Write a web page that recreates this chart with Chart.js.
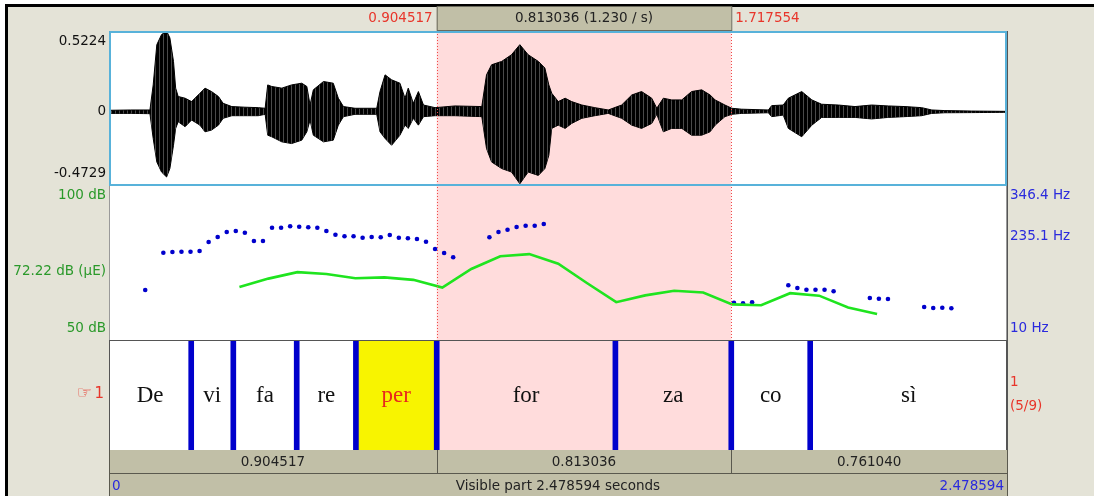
<!DOCTYPE html>
<html>
<head>
<meta charset="utf-8">
<title>Praat TextGrid editor</title>
<script src="https://cdn.jsdelivr.net/npm/chart.js@4.4.0/dist/chart.umd.min.js"></script>
<style>
  html, body { margin: 0; padding: 0; background: #fff; }
  #wrap { position: relative; width: 1094px; height: 496px; }
  canvas { display: block; }
</style>
</head>
<body>
<div id="wrap"><canvas id="praat" width="1094" height="496"></canvas></div>
<script>
// --- data ---
const totalDuration = 2.478594;
const selStart = 0.904517;
const selEnd = 1.717554;

// tier 1: interval bounds and their labels
const tierBounds = [0, 0.2269, 0.3431, 0.5181, 0.6815, 0.904517, 1.3977, 1.717554, 1.9354, 2.478594];
const tierLabels = ['De', 'vi', 'fa', 're', 'per', 'for', 'za', 'co', 'sì'];
const activeInterval = 4;

// waveform envelope (upper / lower amplitude)
const waveTimes = [0.000, 0.003, 0.060, 0.113, 0.122, 0.132, 0.145, 0.159, 0.168, 0.178, 0.184, 0.191, 0.210, 0.228,
  0.251, 0.265, 0.283, 0.302, 0.315, 0.339, 0.375, 0.412, 0.431, 0.438, 0.449, 0.477, 0.504, 0.532, 0.546, 0.555,
  0.564, 0.592, 0.619, 0.633, 0.647, 0.679, 0.739, 0.748, 0.762, 0.780, 0.803, 0.817, 0.826, 0.840, 0.854, 0.868,
  0.900, 0.955, 1.029, 1.042, 1.056, 1.084, 1.111, 1.134, 1.157, 1.185, 1.203, 1.214, 1.222, 1.240, 1.259, 1.277,
  1.305, 1.341, 1.378, 1.415, 1.443, 1.470, 1.498, 1.512, 1.530, 1.553, 1.581, 1.608, 1.636, 1.659, 1.673, 1.700,
  1.719, 1.746, 1.820, 1.829, 1.861, 1.875, 1.912, 1.940, 1.967, 2.013, 2.059, 2.105, 2.151, 2.197, 2.243, 2.271,
  2.307, 2.381, 2.4786];
const waveTop = [0.008, 0.010, 0.012, 0.012, 0.174, 0.434, 0.499, 0.521, 0.478, 0.326, 0.153, 0.099, 0.088, 0.066,
  0.120, 0.153, 0.131, 0.099, 0.055, 0.034, 0.030, 0.027, 0.023, 0.174, 0.164, 0.153, 0.174, 0.185, 0.164, 0.044,
  0.142, 0.196, 0.185, 0.088, 0.034, 0.023, 0.023, 0.131, 0.239, 0.207, 0.185, 0.088, 0.153, 0.055, 0.131, 0.044,
  0.027, 0.038, 0.034, 0.239, 0.304, 0.326, 0.369, 0.434, 0.369, 0.326, 0.283, 0.174, 0.120, 0.066, 0.088, 0.066,
  0.044, 0.027, 0.012, 0.044, 0.109, 0.131, 0.088, 0.023, 0.088, 0.077, 0.077, 0.131, 0.142, 0.109, 0.077, 0.044,
  0.023, 0.017, 0.012, 0.040, 0.044, 0.088, 0.131, 0.077, 0.049, 0.044, 0.034, 0.044, 0.038, 0.034, 0.027, 0.012,
  0.008, 0.005, 0.003];
const waveBottom = [-0.008, -0.010, -0.010, -0.012, -0.172, -0.324, -0.389, -0.421, -0.367, -0.216, -0.107, -0.064,
  -0.096, -0.053, -0.086, -0.129, -0.118, -0.086, -0.042, -0.025, -0.025, -0.025, -0.016, -0.151, -0.161, -0.194,
  -0.205, -0.183, -0.129, -0.053, -0.151, -0.194, -0.183, -0.086, -0.031, -0.016, -0.016, -0.129, -0.172, -0.216,
  -0.151, -0.086, -0.107, -0.042, -0.086, -0.031, -0.025, -0.025, -0.031, -0.237, -0.324, -0.367, -0.389, -0.465,
  -0.389, -0.411, -0.367, -0.281, -0.107, -0.086, -0.107, -0.075, -0.042, -0.025, -0.010, -0.042, -0.086, -0.107,
  -0.075, -0.016, -0.129, -0.107, -0.107, -0.151, -0.151, -0.129, -0.086, -0.031, -0.016, -0.010, -0.006, -0.031,
  -0.021, -0.107, -0.161, -0.086, -0.036, -0.036, -0.036, -0.046, -0.036, -0.031, -0.025, -0.010, -0.006, -0.005,
  -0.003];

// pitch (Hz)
const pitchTimes = [0.100, 0.150, 0.175, 0.200, 0.225, 0.250, 0.275, 0.300, 0.325, 0.350, 0.375, 0.400, 0.425,
  0.450, 0.475, 0.500, 0.525, 0.550, 0.575, 0.600, 0.625, 0.650, 0.675, 0.700, 0.725, 0.750, 0.775, 0.800, 0.825,
  0.850, 0.875, 0.900, 0.925, 0.950, 1.050, 1.075, 1.100, 1.125, 1.150, 1.175, 1.200, 1.725, 1.750, 1.775, 1.875,
  1.900, 1.925, 1.950, 1.975, 2.000, 2.100, 2.125, 2.150, 2.250, 2.275, 2.300, 2.325];
const pitchHz = [118.5, 199.5, 201.0, 201.5, 201.5, 203.2, 222.7, 233.5, 244.4, 246.6, 242.9, 224.9, 224.9, 253.7,
  253.7, 256.8, 255.9, 254.6, 253.7, 246.6, 238.5, 235.1, 235.1, 232.0, 233.5, 232.9, 237.9, 232.0, 230.7, 229.2,
  223.3, 207.5, 198.8, 189.5, 232.9, 244.4, 249.4, 255.2, 258.1, 258.1, 261.8, 91.0, 89.7, 91.8, 128.7, 122.9,
  119.2, 119.2, 119.2, 115.7, 101.2, 99.6, 99.0, 81.6, 79.5, 80.1, 78.8];

// intensity (dB)
const intensityTimes = [0.36, 0.44, 0.52, 0.60, 0.68, 0.76, 0.84, 0.92, 1.00, 1.08, 1.16, 1.24, 1.32, 1.40, 1.48,
  1.56, 1.64, 1.72, 1.80, 1.88, 1.96, 2.04, 2.12];
const intensityDb = [67.1, 69.8, 71.9, 71.3, 69.9, 70.2, 69.4, 66.9, 72.9, 77.0, 77.7, 74.6, 68.3, 62.2, 64.4,
  65.9, 65.3, 61.5, 61.2, 65.1, 64.3, 60.5, 58.4];

// axis ticks and labels
const waveTicks = [0.5224, 0, -0.4729];
const waveTickLabels = ['0.5224', '0', '-0.4729'];
const dbTicks = [100, 72.22, 50];
const dbTickLabels = ['100 dB', '72.22 dB (µE)', '50 dB'];
const hzTicks = [346.4, 235.1, 10];
const hzTickLabels = ['346.4 Hz', '235.1 Hz', '10 Hz'];

// texts in the top and bottom bars
const selectionText = '0.813036 (1.230 / s)';
const selStartText = '0.904517';
const selEndText = '1.717554';
const segmentTexts = ['0.904517', '0.813036', '0.761040'];
const visibleText = 'Visible part 2.478594 seconds';

const SANS = '13.5px "DejaVu Sans"';
const BAR_FILL = '#c1bfa7';
const RED = '#e8352a';
const GREEN = '#2a992a';
const BLUE = '#2a2add';

function pts(xs, ys) { return xs.map((t, i) => ({ x: t, y: ys[i] })); }

// striped fill so the waveform reads like dense samples, not a flat blob
function stripePattern() {
  const p = document.createElement('canvas');
  p.width = 4; p.height = 1;
  const pc = p.getContext('2d');
  pc.fillStyle = '#000';
  pc.fillRect(0, 0, 4, 1);
  pc.fillStyle = '#4a4a4a';
  pc.fillRect(3, 0, 1, 1);
  return pc.createPattern(p, 'repeat');
}

function sideLabel(c, scale, value, text, x, align, color) {
  let y = scale.getPixelForValue(value);
  y = Math.max(scale.top + 10.5, Math.min(scale.bottom - 12, y));
  c.fillStyle = color;
  c.textAlign = align;
  c.textBaseline = 'middle';
  c.fillText(text, x, y);
}

const praatPanels = {
  id: 'praatPanels',
  beforeDraw(chart) {
    const c = chart.ctx, x = chart.scales.x, area = chart.chartArea;
    const W = chart.width, H = chart.height;
    c.save();
    c.fillStyle = '#fff';
    c.fillRect(0, 0, W, H);
    c.fillStyle = '#e4e3d7';
    c.fillRect(6, 5, W - 6, H - 5);
    c.fillStyle = '#000';
    c.fillRect(5, 4, W - 5, 3);
    c.fillRect(5, 4, 3, H - 4);

    c.fillStyle = '#fff';
    c.fillRect(area.left, area.top, area.right - area.left, area.bottom - area.top);
    // selected stretch
    const x0 = x.getPixelForValue(selStart), x1 = x.getPixelForValue(selEnd);
    c.fillStyle = '#ffdcdc';
    c.fillRect(x0, area.top, x1 - x0, area.bottom - area.top);
    // highlighted interval in the tier
    const tier = chart.scales.yTier;
    const a = x.getPixelForValue(tierBounds[activeInterval]);
    const b = x.getPixelForValue(tierBounds[activeInterval + 1]);
    c.fillStyle = '#f8f400';
    c.fillRect(a, tier.top, b - a, tier.bottom - tier.top);
    c.restore();
  },
  afterDatasetsDraw(chart) {
    const c = chart.ctx, x = chart.scales.x, area = chart.chartArea;
    const wave = chart.scales.yWave, db = chart.scales.yDb, hz = chart.scales.yHz, tier = chart.scales.yTier;
    const x0 = x.getPixelForValue(selStart), x1 = x.getPixelForValue(selEnd);
    c.save();

    // dotted selection edges
    c.strokeStyle = '#f04848';
    c.lineWidth = 1;
    c.setLineDash([1, 2]);
    [x0, x1].forEach(px => {
      c.beginPath();
      c.moveTo(Math.round(px) + 0.5, wave.top);
      c.lineTo(Math.round(px) + 0.5, db.bottom);
      c.stroke();
    });
    c.setLineDash([]);

    // panel frames
    c.strokeStyle = '#9a9a9a';
    c.lineWidth = 1;
    c.strokeRect(area.left + 0.5, db.top + 0.5, area.right - area.left - 1, db.bottom - db.top);
    c.strokeStyle = '#555';
    c.strokeRect(area.left + 0.5, tier.top + 0.5, area.right - area.left - 1, tier.bottom - tier.top);
    c.strokeStyle = '#58b2da';
    c.lineWidth = 2;
    c.strokeRect(area.left + 1, wave.top + 1, area.right - area.left - 2, wave.bottom - wave.top - 1);
    c.strokeStyle = '#555';
    c.lineWidth = 1;
    c.beginPath();
    c.moveTo(area.right + 0.5, area.top);
    c.lineTo(area.right + 0.5, area.bottom);
    c.stroke();

    // tier texts
    c.font = '23px "Liberation Serif"';
    c.textAlign = 'center';
    c.textBaseline = 'alphabetic';
    tierLabels.forEach((lab, i) => {
      const mid = (x.getPixelForValue(tierBounds[i]) + x.getPixelForValue(tierBounds[i + 1])) / 2;
      c.fillStyle = i === activeInterval ? '#e8281c' : '#111';
      c.fillText(lab, mid, tier.top + 62);
    });

    // side labels
    c.font = SANS;
    waveTicks.forEach((v, i) => sideLabel(c, wave, v, waveTickLabels[i], 106, 'right', '#111'));
    dbTicks.forEach((v, i) => sideLabel(c, db, v, dbTickLabels[i], 106, 'right', GREEN));
    hzTicks.forEach((v, i) => sideLabel(c, hz, v, hzTickLabels[i], 1010, 'left', BLUE));
    c.fillStyle = RED;
    c.textBaseline = 'middle';
    c.textAlign = 'left';
    c.fillText('1', 1010, tier.top + 42);
    c.fillText('(5/9)', 1010, tier.top + 66);
    c.textAlign = 'right';
    c.font = '15px "DejaVu Sans"';
    c.fillText('1', 104, tier.top + 54);
    c.font = '17px "DejaVu Sans"';
    c.fillText('☞', 92, tier.top + 54);

    // top bar
    c.font = SANS;
    c.fillStyle = BAR_FILL;
    c.fillRect(x0, 7, x1 - x0, area.top - 8);
    c.strokeStyle = '#6b6a5c';
    c.strokeRect(x0 + 0.5, 6.5, x1 - x0, area.top - 7);
    c.fillStyle = '#222';
    c.textAlign = 'center';
    c.fillText(selectionText, (x0 + x1) / 2, 18);
    c.fillStyle = RED;
    c.textAlign = 'right';
    c.fillText(selStartText, x0 - 4, 18);
    c.textAlign = 'left';
    c.fillText(selEndText, x1 + 4, 18);

    // bottom bars
    const r1 = area.bottom, r2 = area.bottom + 24;
    c.fillStyle = BAR_FILL;
    c.fillRect(area.left, r1, area.right - area.left, chart.height - r1);
    c.strokeStyle = '#5a594e';
    c.beginPath();
    c.moveTo(area.left + 0.5, r1); c.lineTo(area.left + 0.5, chart.height);
    c.moveTo(area.left, r2 - 0.5); c.lineTo(area.right, r2 - 0.5);
    c.moveTo(area.right + 0.5, r1); c.lineTo(area.right + 0.5, chart.height);
    [x0, x1].forEach(px => { c.moveTo(Math.round(px) + 0.5, r1); c.lineTo(Math.round(px) + 0.5, r2); });
    c.stroke();
    const segEdges = [0, selStart, selEnd, totalDuration];
    c.fillStyle = '#222';
    c.textAlign = 'center';
    segmentTexts.forEach((s, i) => {
      const mid = (x.getPixelForValue(segEdges[i]) + x.getPixelForValue(segEdges[i + 1])) / 2;
      c.fillText(s, mid, r1 + 12);
    });
    c.fillText(visibleText, (area.left + area.right) / 2, r2 + 12);
    c.fillStyle = BLUE;
    c.textAlign = 'left';
    c.fillText('0', area.left + 3, r2 + 12);
    c.textAlign = 'right';
    c.fillText(String(totalDuration), area.right - 3, r2 + 12);
    c.restore();
  }
};

const fixLeft = s => { s.width = 109; };
const fixRight = s => { s.width = 87; };
const hidden = { ticks: { display: false }, grid: { display: false }, border: { display: false } };

new Chart(document.getElementById('praat').getContext('2d'), {
  type: 'line',
  data: {
    datasets: [
      { label: 'wave top', data: pts(waveTimes, waveTop), yAxisID: 'yWave', borderColor: '#000',
        borderWidth: 1, backgroundColor: stripePattern(), fill: '+1', pointRadius: 0, tension: 0 },
      { label: 'wave bottom', data: pts(waveTimes, waveBottom), yAxisID: 'yWave', borderColor: '#000',
        borderWidth: 1, fill: false, pointRadius: 0, tension: 0 },
      { label: 'intensity', data: pts(intensityTimes, intensityDb), yAxisID: 'yDb', borderColor: '#1fe41f',
        borderWidth: 2.6, fill: false, pointRadius: 0, tension: 0 },
      { label: 'pitch', data: pts(pitchTimes, pitchHz), yAxisID: 'yHz', showLine: false,
        pointRadius: 2.3, pointBorderWidth: 0, pointBackgroundColor: '#0000cc' },
      { label: 'boundaries', type: 'bar', data: tierBounds.slice(1, -1).map(t => ({ x: t, y: [0, 1] })),
        yAxisID: 'yTier', backgroundColor: '#0000cc', borderWidth: 0, barThickness: 5, grouped: false }
    ]
  },
  options: {
    responsive: false,
    animation: false,
    events: [],
    layout: { padding: { top: 31, bottom: 46, left: 0, right: 0 } },
    plugins: { legend: { display: false }, tooltip: { enabled: false } },
    scales: {
      x: { type: 'linear', min: 0, max: totalDuration, display: false, offset: false },
      yWave: { type: 'linear', position: 'left', stack: 'L', stackWeight: 154, weight: 3,
        min: -0.4729, max: 0.5224, afterFit: fixLeft,
        afterBuildTicks: s => { s.ticks = [{ value: 0 }]; },
        ticks: { display: false }, border: { display: false },
        grid: { drawTicks: false, color: '#9ab4c4', lineWidth: 1 } },
      yDb: { type: 'linear', position: 'left', stack: 'L', stackWeight: 155, weight: 2,
        min: 50, max: 100, afterFit: fixLeft, ...hidden },
      yTier: { type: 'linear', position: 'left', stack: 'L', stackWeight: 110, weight: 1,
        min: 0, max: 1, afterFit: fixLeft, ...hidden },
      yR1: { type: 'linear', position: 'right', stack: 'R', stackWeight: 154, weight: 1,
        afterFit: fixRight, ...hidden },
      yHz: { type: 'linear', position: 'right', stack: 'R', stackWeight: 155, weight: 2,
        min: 10, max: 346.4, afterFit: fixRight, ...hidden },
      yR3: { type: 'linear', position: 'right', stack: 'R', stackWeight: 110, weight: 3,
        afterFit: fixRight, ...hidden }
    }
  },
  plugins: [praatPanels]
});
</script>
</body>
</html>
